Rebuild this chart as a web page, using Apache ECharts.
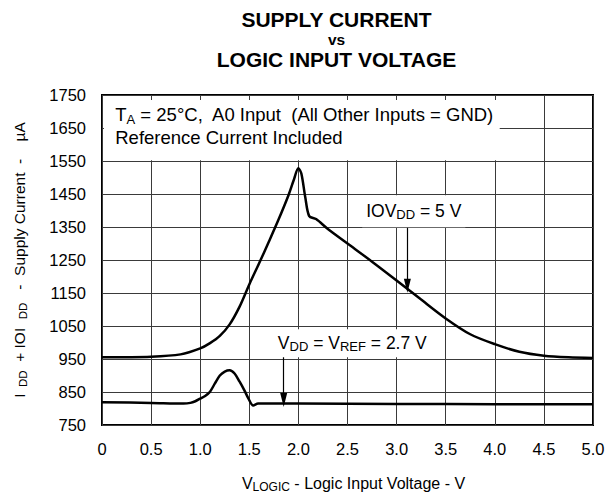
<!DOCTYPE html>
<html><head><meta charset="utf-8">
<script src="https://cdn.jsdelivr.net/npm/echarts@6/dist/echarts.min.js"></script>
<style>html,body{margin:0;padding:0;background:#fff}#c{width:616px;height:498px}</style>
</head><body><div id="c"></div>
<script>
// ---- data ----
const xTickLabels = ['0','0.5','1.0','1.5','2.0','2.5','3.0','3.5','4.0','4.5','5.0'];
const yTickLabels = ['750','850','950','1050','1150','1250','1350','1450','1550','1650','1750'];
// IOVDD = 5 V curve
const iovddX = [0, 0.5, 0.8, 1.0, 1.1, 1.2, 1.3, 1.4, 1.5, 1.6, 1.7, 1.8, 1.9, 1.95, 2.0, 2.03, 2.07, 2.11, 2.18, 2.3, 2.5, 2.75, 3.0, 3.25, 3.5, 3.75, 4.0, 4.25, 4.5, 4.75, 5.0];
const iovddY = [955, 957, 964, 982, 998, 1020, 1055, 1108, 1176, 1240, 1306, 1374, 1447, 1490, 1528, 1512, 1440, 1383, 1374, 1344, 1300, 1245, 1188, 1130, 1073, 1025, 995, 972, 960, 955, 953];
// VDD = VREF = 2.7 V curve
const vddX = [0, 0.5, 0.83, 0.9, 0.95, 1.0, 1.05, 1.1, 1.15, 1.2, 1.25, 1.3, 1.35, 1.4, 1.45, 1.49, 1.54, 1.59, 2.0, 3.0, 4.0, 5.0];
const vddY = [819, 817, 815, 817, 822, 830, 838, 851, 876, 900, 912, 916, 906, 882, 855, 831, 809, 815, 815, 814, 813, 813];
// annotation arrows [x, yStart, yEnd]
const arrow5V = [3.11, 1348, 1172];
const arrow27V = [1.85, 960, 826];

const FONT = '"Liberation Sans", Arial, Helvetica, sans-serif';
const toPairs = (xs, ys) => xs.map((x, i) => [x, ys[i]]);

const chart = echarts.init(document.getElementById('c'), null, {renderer: 'svg'});
const sub = {fontSize: 13, lineHeight: 8, verticalAlign: 'bottom', fontFamily: FONT, color: '#000'};
const main = {fontSize: 17.5, lineHeight: 20, fontFamily: FONT, color: '#000'};

chart.setOption({
  animation: false,
  backgroundColor: '#fff',
  graphic: [{
    type: 'text', x: 336.5, y: 9,
    style: {
      text: '{a|SUPPLY CURRENT}\n{b|vs}\n{a|LOGIC INPUT VOLTAGE}',
      align: 'center', verticalAlign: 'top',
      rich: {
        a: {fontSize: 21, fontWeight: 'bold', lineHeight: 20, fontFamily: FONT, color: '#000', align: 'center'},
        b: {fontSize: 15.5, fontWeight: 'bold', lineHeight: 20, fontFamily: FONT, color: '#000', align: 'center'}
      }
    }
  }],
  grid: {left: 102, top: 95, width: 491, height: 332, show: true, borderColor: '#000', borderWidth: 2, backgroundColor: 'transparent'},
  xAxis: {
    type: 'value', min: 0, max: 5, interval: 0.5,
    axisLine: {show: false}, axisTick: {show: false},
    splitLine: {show: true, lineStyle: {color: '#3a3a3a', width: 1}},
    axisLabel: {margin: 15, fontSize: 16.5, fontFamily: FONT, color: '#000',
      formatter: v => xTickLabels[Math.round(v / 0.5)]},
    name: '{m|V}{s|LOGIC}{m| - Logic Input Voltage - V}',
    nameLocation: 'middle', nameGap: 48,
    nameTextStyle: {padding: [0, 0, 0, 12], rich: {m: Object.assign({}, main, {fontSize: 16}), s: Object.assign({}, sub, {fontSize: 12})}}
  },
  yAxis: {
    type: 'value', min: 750, max: 1750, interval: 100,
    axisLine: {show: false}, axisTick: {show: false},
    splitLine: {show: true, lineStyle: {color: '#3a3a3a', width: 1}},
    axisLabel: {margin: 16, fontSize: 16.5, fontFamily: FONT, color: '#000',
      formatter: v => yTickLabels[Math.round((v - 750) / 100)]},
    name: '{m|I}{s|  DD}{m|  + IOI  }{s|DD}{m|   -  Supply Current  -    µA}',
    nameLocation: 'middle', nameRotate: 90, nameGap: 73,
    nameTextStyle: {rich: {m: Object.assign({}, main, {fontSize: 15.5}), s: Object.assign({}, sub, {fontSize: 11.5})}}
  },
  series: [
    {
      type: 'line', name: 'IOVDD = 5 V', data: toPairs(iovddX, iovddY),
      smooth: 0.3, showSymbol: false, silent: true, z: 5,
      lineStyle: {color: '#000', width: 2.5},
      markArea: {
        silent: true, z: 3,
        itemStyle: {color: '#fff', opacity: 1},
        label: {show: false},
        data: [[{coord: [0.02, 1552]}, {coord: [4.05, 1735]}]]
      },
      markLine: {
        silent: true, symbol: ['none', 'triangle'], symbolSize: [7, 14],
        lineStyle: {color: '#000', width: 1.2, type: 'solid'}, label: {show: false},
        data: [[{coord: [arrow5V[0], arrow5V[1]]}, {coord: [arrow5V[0], arrow5V[2]]}]]
      },
      markPoint: {
        silent: true, symbol: 'circle', symbolSize: 0,
        data: [
          {coord: [0.135, 1656], label: {show: true, position: 'inside', align: 'left', verticalAlign: 'middle',
            formatter: '{m|T}{s|A}{m| = 25°C,  A0 Input  (All Other Inputs = GND)}\n{m|Reference Current Included}',
            rich: {m: Object.assign({}, main, {fontSize: 18.5, lineHeight: 23.5}), s: Object.assign({}, sub, {fontSize: 13, lineHeight: 13.5})}}},
          {coord: [3.175, 1398], label: {show: true, position: 'inside', align: 'center', verticalAlign: 'middle',
            backgroundColor: '#fff', padding: [6, 4],
            formatter: '{m|IOV}{s|DD}{m| = 5 V}',
            rich: {m: main, s: sub}}}
        ]
      }
    },
    {
      type: 'line', name: 'VDD = VREF = 2.7 V', data: toPairs(vddX, vddY),
      smooth: 0.3, showSymbol: false, silent: true, z: 5,
      lineStyle: {color: '#000', width: 2.5},
      markLine: {
        silent: true, symbol: ['none', 'triangle'], symbolSize: [7, 14],
        lineStyle: {color: '#000', width: 1.2, type: 'solid'}, label: {show: false},
        data: [[{coord: [arrow27V[0], arrow27V[1]]}, {coord: [arrow27V[0], arrow27V[2]]}]]
      },
      markPoint: {
        silent: true, symbol: 'circle', symbolSize: 0,
        data: [
          {coord: [2.549, 998], label: {show: true, position: 'inside', align: 'center', verticalAlign: 'middle',
            backgroundColor: '#fff', padding: [4, 4],
            formatter: '{m|V}{s|DD}{m| = V}{s|REF}{m| = 2.7 V}',
            rich: {m: main, s: sub}}}
        ]
      }
    }
  ]
});
</script></body></html>
